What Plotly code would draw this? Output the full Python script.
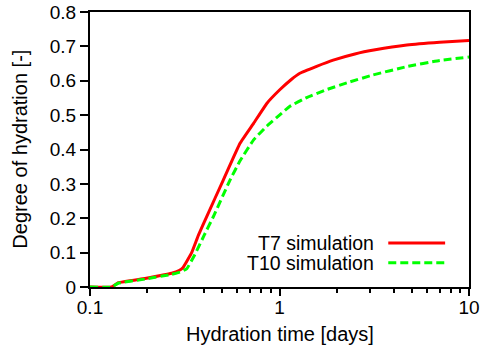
import plotly.graph_objects as go

# T7 simulation
t7_time = [0.1, 0.13, 0.141, 0.195, 0.27, 0.295, 0.31, 0.344, 0.373, 0.413, 0.505, 0.619,
           0.73, 0.857, 1.0, 1.15, 1.28, 1.57, 1.92, 2.5, 3.2, 4.7, 7.0, 10]
t7_doh = [0, 0, 0.0125, 0.025, 0.04, 0.048, 0.057, 0.1, 0.15, 0.205, 0.311, 0.418,
          0.476, 0.534, 0.573, 0.603, 0.622, 0.642, 0.66, 0.678, 0.69, 0.704, 0.712, 0.717]

# T10 simulation
t10_time = [0.1, 0.13, 0.141, 0.195, 0.27, 0.305, 0.325, 0.358, 0.40, 0.448, 0.548, 0.619,
            0.73, 0.857, 1.0, 1.13, 1.39, 1.77, 2.27, 3.12, 4.69, 7.0, 10]
t10_doh = [0, 0, 0.011, 0.023, 0.037, 0.045, 0.054, 0.095, 0.15, 0.205, 0.311, 0.367,
           0.428, 0.468, 0.50, 0.525, 0.551, 0.574, 0.594, 0.617, 0.641, 0.659, 0.669]

series_names = ["T7 simulation", "T10 simulation"]
x_title = "Hydration time [days]"
y_title = "Degree of hydration [-]"
y_ticks = [0, 0.1, 0.2, 0.3, 0.4, 0.5, 0.6, 0.7, 0.8]
y_ticklabels = ["0", "0.1", "0.2", "0.3", "0.4", "0.5", "0.6", "0.7", "0.8"]
x_ticks = [0.1, 1, 10]
x_ticklabels = ["0.1", "1", "10"]

FONT = "Liberation Sans, Arial, sans-serif"

fig = go.Figure()
fig.add_trace(go.Scatter(x=t7_time, y=t7_doh, mode="lines", name=series_names[0],
                         line=dict(color="#ff0000", width=3, shape="spline", smoothing=0.3),
                         showlegend=False))
fig.add_trace(go.Scatter(x=t10_time, y=t10_doh, mode="lines", name=series_names[1],
                         line=dict(color="#00ff00", width=3, dash="8px,4px",
                                   shape="spline", smoothing=0.3),
                         showlegend=False))

# custom legend: text right-aligned, line sample to the right
leg_y = [0.16, 0.088]
leg_colors = ["#ff0000", "#00ff00"]
leg_dash = ["solid", "8px,4px"]
for name, yy, c, d in zip(series_names, leg_y, leg_colors, leg_dash):
    fig.add_annotation(xref="paper", yref="paper", x=0.755, y=yy, text=name,
                       showarrow=False, xanchor="right", yanchor="middle",
                       font=dict(family=FONT, size=19.5, color="black"))
    fig.add_shape(type="line", xref="paper", yref="paper", x0=0.787, x1=0.937,
                  y0=yy, y1=yy, line=dict(color=c, width=3, dash=d))

# axis titles
fig.add_annotation(xref="paper", yref="paper", x=0.5, y=-0.172, text=x_title,
                   showarrow=False, xanchor="center", yanchor="middle",
                   font=dict(family=FONT, size=20, color="black"))
fig.add_annotation(xref="paper", yref="paper", x=-0.187, y=0.5, text=y_title,
                   textangle=-90, showarrow=False, xanchor="center", yanchor="middle",
                   font=dict(family=FONT, size=20, color="black"))

fig.update_layout(
    width=481, height=351,
    margin=dict(l=90, r=12, t=12, b=64, autoexpand=False),
    paper_bgcolor="white", plot_bgcolor="white",
    font=dict(family=FONT, size=19, color="black"),
)
fig.update_xaxes(
    type="log", range=[-1, 1], automargin=False,
    tickvals=x_ticks, ticktext=x_ticklabels,
    ticks="outside", ticklen=7, tickwidth=1.5, tickcolor="black",
    ticklabelstandoff=-5,
    minor=dict(ticks="outside", ticklen=4, tickwidth=1.5, tickcolor="black", dtick="D1", showgrid=False),
    showline=True, linecolor="black", linewidth=2, mirror=True,
    showgrid=False, zeroline=False,
    tickfont=dict(size=19),
)
fig.update_yaxes(
    range=[0, 0.8], automargin=False,
    tickvals=y_ticks, ticktext=y_ticklabels,
    ticks="outside", ticklen=8, tickwidth=1.5, tickcolor="black",
    showline=True, linecolor="black", linewidth=2, mirror=True,
    showgrid=False, zeroline=False,
    tickfont=dict(size=19),
)

fig.write_html("out.html")
